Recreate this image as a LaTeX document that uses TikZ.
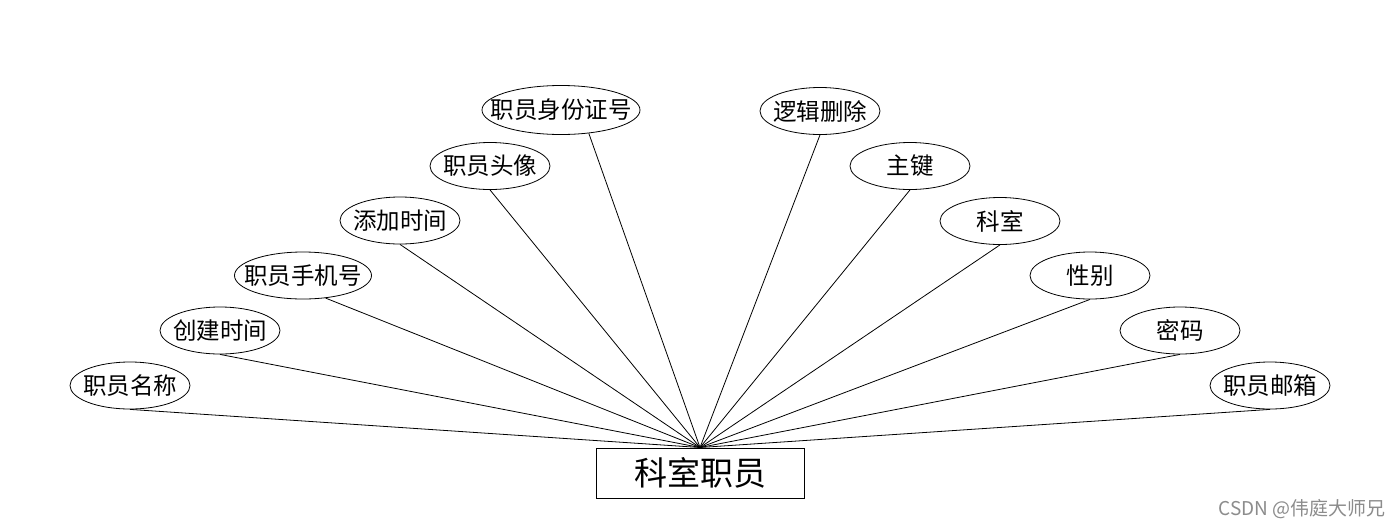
\documentclass[tikz,border=0pt]{standalone}
\usepackage{fontspec}
\setmainfont{Noto Sans CJK SC}
\newfontfamily\cjk{Noto Sans CJK SC}
\usetikzlibrary{shapes.geometric}
\begin{document}
\begin{tikzpicture}[x=1pt,y=-1pt,
  attr/.style={draw, ellipse, line width=0.8pt, fill=white, inner sep=0pt,
    minimum width=120pt, minimum height=47pt, font=\cjk\fontsize{23.5}{26}\selectfont},
  ent/.style={draw, rectangle, line width=0.8pt, fill=white, inner sep=0pt,
    minimum width=208pt, minimum height=50pt, font=\cjk\fontsize{33}{38}\selectfont},
  link/.style={line width=0.8pt}]
\newcommand\zw[1]{\makebox[0pt]{#1}}
\useasboundingbox (0,0) rectangle (1400,528);
\fill[white] (0,0) rectangle (1400,528);
\node[ent] (e) at (700,473) {科室职员};
\coordinate (c) at (700,447.5);
\node[attr] (a1) at (130,385.5) {\zw{职员名称}};
\node[attr] (a2) at (220,330.5) {\zw{创建时间}};
\node[attr, minimum width=137pt] (a3) at (303,275.5) {\zw{职员手机号}};
\node[attr] (a4) at (400,220.5) {\zw{添加时间}};
\node[attr] (a5) at (490,166) {\zw{职员头像}};
\node[attr, minimum width=158pt, minimum height=49pt] (a6) at (561,110) {\zw{职员身份证号}};
\node[attr] (b1) at (820,111) {\zw{逻辑删除}};
\node[attr] (b2) at (910,166) {\zw{主键}};
\node[attr] (b3) at (1000,221) {\zw{科室}};
\node[attr] (b4) at (1090,275.5) {\zw{性别}};
\node[attr] (b5) at (1180,330.5) {\zw{密码}};
\node[attr] (b6) at (1270,385.5) {\zw{职员邮箱}};
\draw[link] (a1.south) -- (c);
\draw[link] (a2.south) -- (c);
\draw[link] (a3.-45) -- (c);
\draw[link] (a4.south) -- (c);
\draw[link] (a5.south) -- (c);
\draw[link] (a6.-40) -- (c);
\draw[link] (b1.south) -- (c);
\draw[link] (b2.south) -- (c);
\draw[link] (b3.south) -- (c);
\draw[link] (b4.south) -- (c);
\draw[link] (b5.south) -- (c);
\draw[link] (b6.south) -- (c);
\node[anchor=east, text=black!45, font=\cjk\fontsize{19}{22}\selectfont, inner sep=0pt] (wm) at (1386,509) {CSDN @伟庭大师兄};
\end{tikzpicture}
\end{document}
